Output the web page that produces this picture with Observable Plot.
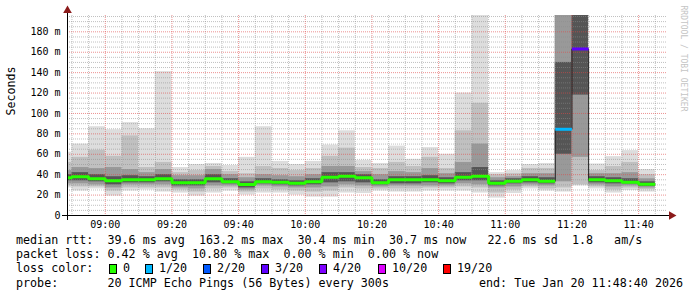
<!DOCTYPE html>
<html><head><meta charset="utf-8">
<script src="https://cdn.jsdelivr.net/npm/d3@7"></script>
<script src="https://cdn.jsdelivr.net/npm/@observablehq/plot@0.6"></script>
<style>
body{margin:0;background:#fff}
#wrap{position:relative;width:697px;height:297px;font-family:"DejaVu Sans Mono",monospace;overflow:hidden}
#wrap svg{display:block}
.lg{position:absolute;font-size:11.7px;line-height:13px;white-space:pre;color:#000}
.bx{position:absolute;width:6px;height:8px;border:1px solid #000}
</style></head><body><div id="wrap"></div>
<script>
// 5-minute bins (start time), smokeping ping distribution per bin (ms)
const times = ["08:45","08:50","08:55","09:00","09:05","09:10","09:15","09:20","09:25","09:30","09:35","09:40","09:45","09:50","09:55","10:00","10:05","10:10","10:15","10:20","10:25","10:30","10:35","10:40","10:45","10:50","10:55","11:00","11:05","11:10","11:15","11:20","11:25","11:30","11:35","11:40"];
const pingMin = [27,24,26,19,24,25,23,22,19,22,24,20,22,22,20,18,18,22,21.5,24,23,23,24,24,24,22,17,21.5,26,24,23,29,26,22,24.5,23];
const pingLo2 = [29,28,28,24,27,27,27,25,23,26,27,23,26,25,24,23,24,27,26,26,26,26,27,27,28,27,22,25,28,26,27,30,28,25,27,25.5];
const pingLo3 = [31,31,30,27,30,30,30,27,26,29,29,25,29,28,27,27,28,30,29,28,29,29,29,29,31,30,27,28,30,29,33,57,30,28,29,27];
const pingLo4 = [34,34,33,30,32,32,33,29,29,32,31,27,31,30,29,30,32,33,32,30,31,31,32,31,34,34,29,31,32,31,60,118,32,31,31,28.5];
const median  = [37,38,36,34,35,35,36,32,32,36,33,30.4,33,32.6,31.6,33,37.5,38.5,37,32,35,35,35,34,37.5,38.5,31.6,33.6,35,33.6,84.5,163.2,35,34,32.6,30.7];
const pingHi4 = [40,42,40,38,39,38,40,35,35,40,36,33,36,35,34,36,42,42,40,35,38,38,39,37,42,47,34,36,38,37,150,250,38,37,36,33];
const pingHi3 = [44,47,46,47,45,42,45,39,39,45,40,37,40,39,38,40,48,48,43,40,43,42,46,41,52,70,37,38,41,41,250,250,41,41,42,36];
const pingHi2 = [52,57,64,58,78,47,52,42,44,48,43,41,48,46,44,46,58,66,47,46,52,48,57,46,83,110,40,41,46,46,250,250,44,48,52,40];
const pingMax = [62,70,87,84,91,85,141,47,50,51,49,57,87,53,50,53,69,83,54,51,68,55,66.5,60,120,250,42,44,50,51,250,250,50.5,57.7,63.6,45];
const lossPct = [0,0,0,0,0,0,0,0,0,0,0,0,0,0,0,0,0,0,0,0,0,0,0,0,0,0,0,0,0,0,5,10.8,0,0,0,0];

const yTicks = [0,20,40,60,80,100,120,140,160,180];
const xTickLabels = ["09:00","09:20","09:40","10:00","10:20","10:40","11:00","11:20","11:40"];
const lossSteps = [0,1,2,3,4,10,19];
const lossNames = ["0","1/20","2/20","3/20","4/20","10/20","19/20"];
const lossColors = ["#26ff00","#00b8ff","#0059ff","#5e00ff","#7e00ff","#dd00ff","#ff0000"];
const legendLines = [
  "median rtt:  39.6 ms avg  163.2 ms max  30.4 ms min  30.7 ms now   22.6 ms sd  1.8   am/s",
  "packet loss: 0.42 % avg  10.80 % max  0.00 % min  0.00 % now",
  "loss color:",
  "probe:       20 ICMP Echo Pings (56 Bytes) every 300s"
];
const endText = "end: Tue Jan 20 11:48:40 2026";

const T = s => new Date(Date.UTC(2026,0,20,+s.slice(0,2),+s.slice(3,5),+(s.slice(6,8)||0)));
const STEP = 300000;
const lossColor = p => { const n = p/100*20; for (let j=0;j<lossSteps.length;j++) if (n <= lossSteps[j]+1e-9) return lossColors[j]; return lossColors[lossColors.length-1]; };
const rows = times.map((t,i)=>({x1:T(t), x2:new Date(+T(t)+STEP), min:pingMin[i], lo2:pingLo2[i], lo3:pingLo3[i], lo4:pingLo4[i], med:median[i], hi4:pingHi4[i], hi3:pingHi3[i], hi2:pingHi2[i], max:pingMax[i], color:lossColor(lossPct[i])}));
let run = 0;
rows.forEach((r,i)=>{ if (i>0 && r.color!==rows[i-1].color) run++; r.run = run; });
const pts = rows.flatMap(r=>[{x:r.x1,y:r.med,color:r.color,run:r.run},{x:r.x2,y:r.med,color:r.color,run:r.run}]);

const majorX = xTickLabels.map(T);
const minorX = d3.utcMinutes(T("08:50"), T("11:49"), 5).filter(d => d.getUTCMinutes() % 20 !== 0);
const majorY = yTicks.filter(v => v > 0);
const minorY = d3.range(5, 196, 5).filter(v => v % 20 !== 0);
const fmt = d3.utcFormat("%H:%M");
const band = (y1,y2,fill) => Plot.rect(rows,{x1:"x1",x2:"x2",y1,y2,fill,clip:true});

const chart = Plot.plot({
  width:697, height:232, marginLeft:67, marginRight:30, marginTop:15, marginBottom:17,
  style:{fontFamily:"DejaVu Sans Mono", fontSize:"10px", background:"#fff", overflow:"visible", color:"#000"},
  x:{type:"utc", domain:[T("08:48:40"), T("11:48:40")]},
  y:{domain:[0,196]},
  marks:[
    band("min","max","#dddddd"),
    band("lo2","hi2","#c0c0c0"),
    band("lo3","hi3","#999999"),
    band("lo4","hi4","#555555"),
    Plot.gridY(minorY,{stroke:"#8c8c8c",strokeOpacity:0.55,strokeDasharray:"1,1"}),
    Plot.gridX(minorX,{stroke:"#8c8c8c",strokeOpacity:0.55,strokeDasharray:"1,1"}),
    Plot.gridY(majorY,{stroke:"#e04848",strokeOpacity:0.6,strokeDasharray:"1,1"}),
    Plot.gridX(majorX,{stroke:"#e04848",strokeOpacity:0.6,strokeDasharray:"1,1"}),
    Plot.line(pts,{x:"x",y:"y",z:null,stroke:"#202020",strokeWidth:1,clip:true,strokeLinejoin:"miter",strokeLinecap:"butt"}),
    Plot.line(pts,{x:"x",y:"y",z:"run",stroke:"color",strokeWidth:3,clip:true,strokeLinejoin:"miter",strokeLinecap:"butt"}),
    Plot.frame({anchor:"bottom",stroke:"#000",insetLeft:-5,insetRight:-4}),
    Plot.frame({anchor:"left",stroke:"#000",insetTop:-5,insetBottom:-4}),
    Plot.dot([0],{frameAnchor:"top-left",dy:-5,symbol:"triangle",r:3.2,fill:"#8b1a1a",stroke:"none"}),
    Plot.dot([0],{frameAnchor:"bottom-right",dx:4,symbol:"triangle",rotate:90,r:3.2,fill:"#8b1a1a",stroke:"none"}),
    Plot.axisY(yTicks,{tickSize:0,tickPadding:7,tickFormat:d=>d===0?"0":d+" m",label:null,fontSize:10}),
    Plot.axisX(majorX,{tickSize:0,tickPadding:5,tickFormat:fmt,label:null,fontSize:10}),
    Plot.text(["Seconds"],{frameAnchor:"left",dx:-56,rotate:-90,fontSize:11.6,fill:"#000"}),
    Plot.text(["RRDTOOL / TOBI OETIKER"],{frameAnchor:"top-right",dx:19,dy:-10,rotate:90,textAnchor:"start",fontSize:8,fill:"#c4c4c4"})
  ]
});
const wrap = document.getElementById("wrap");
wrap.appendChild(chart);

function addText(x, yc, s){ const e=document.createElement("span"); e.className="lg"; e.style.left=x+"px"; e.style.top=(yc-7)+"px"; e.textContent=s; wrap.appendChild(e); }
const lineY = [241,255,269,284];
legendLines.forEach((s,i)=>addText(16,lineY[i],s));
addText(479,lineY[3],endText);
const boxX = [109,145,203,261,319,378,443];
lossNames.forEach((n,i)=>{
  const b=document.createElement("span"); b.className="bx"; b.style.left=boxX[i]+"px"; b.style.top=(lineY[2]-5)+"px"; b.style.background=lossColors[i]; wrap.appendChild(b);
  addText(boxX[i]+14,lineY[2],n);
});
</script></body></html>
